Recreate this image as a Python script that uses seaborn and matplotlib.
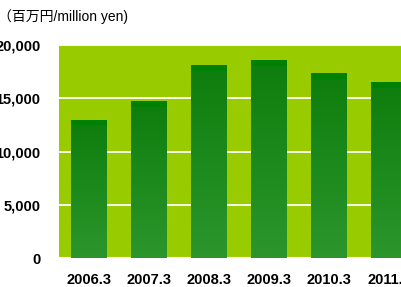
import numpy as np
import pandas as pd
import matplotlib
matplotlib.use("Agg")
import matplotlib.pyplot as plt
import seaborn as sns
from matplotlib.colors import LinearSegmentedColormap

years = ["2006.3", "2007.3", "2008.3", "2009.3", "2010.3", "2011.3"]
sales = [13000, 14700, 18100, 18550, 17350, 16500]
y_ticks = [0, 5000, 10000, 15000, 20000]

sns.set_theme(style="white")
plt.rcParams["font.family"] = ["Liberation Sans", "Noto Sans CJK JP", "DejaVu Sans"]

df = pd.DataFrame({"year": years, "sales": sales})

fig = plt.figure(figsize=(4.01, 2.87), dpi=100)
ax = fig.add_axes([59 / 401, 1 - 258 / 287, 1 - 59 / 401, 213 / 287])
ax.set_facecolor("#99CC00")

sns.barplot(data=df, x="year", y="sales", color="#1E8A1E", width=0.6,
            saturation=1, linewidth=0, edgecolor="none", ax=ax, zorder=3)

# vertical gradient inside each bar, dark band on top
grad = np.linspace(0, 1, 512).reshape(-1, 1)
for p in ax.patches:
    x0, y0 = p.get_x(), p.get_y()
    w, h = p.get_width(), p.get_height()
    top_band = 520 / h
    cm = LinearSegmentedColormap.from_list(
        "b", [(0, "#2C962C"), (1 - top_band - 0.002, "#0E7E0E"),
              (1 - top_band, "#008000"), (1, "#008000")])
    im = ax.imshow(grad, cmap=cm, extent=[x0, x0 + w, y0, y0 + h],
                   origin="lower", aspect="auto", zorder=4,
                   interpolation="nearest")
    im.set_clip_path(p)

ax.set_xlim(-0.5, -0.5 + (401 - 59) / 60)
ax.set_ylim(0, 20000)
ax.set_yticks(y_ticks)
ax.set_yticklabels([f"{v:,}" for v in y_ticks], fontsize=10.5, fontweight="bold")
ax.set_xticks(range(len(years)))
ax.set_xticklabels(years, fontsize=10.5, fontweight="bold")
ax.tick_params(axis="y", pad=13.5, length=0, colors="black")
ax.tick_params(axis="x", pad=11, length=0, colors="black")
ax.set_xlabel("")
ax.set_ylabel("")
ax.yaxis.grid(True, color="white", linewidth=1.3)
ax.set_axisbelow(True)
for s in ax.spines.values():
    s.set_visible(False)
ax.axhline(0, color="white", linewidth=1.5, zorder=2)

fig.text(-2 / 401, 1 - 17 / 287, "（百万円/million yen)", fontsize=10,
         ha="left", va="center", color="black")

fig.savefig("out.png", dpi=100)
